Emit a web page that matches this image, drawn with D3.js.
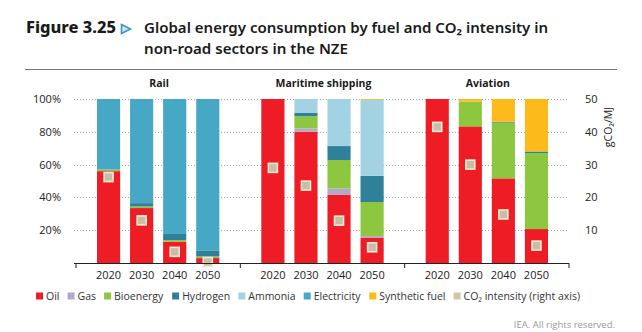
<!DOCTYPE html>
<html><head><meta charset="utf-8">
<script src="https://cdn.jsdelivr.net/npm/d3@7"></script>
<style>
html,body{margin:0;padding:0;background:#fff;}
svg{display:block;}
</style></head>
<body>
<svg id="chart" width="642" height="332"></svg>
<script>
// ---- Data ----
const sectors = ["Rail", "Maritime shipping", "Aviation"];
const years = ["2020", "2030", "2040", "2050"];
const fuels = ["Oil", "Gas", "Bioenergy", "Hydrogen", "Ammonia", "Electricity", "Synthetic fuel"];
const fuelColors = ["#ee1c25", "#b4a7c9", "#8dc63f", "#2f8199", "#a3d3e3", "#47a8c5", "#fcbb1a"];
// shares (%) in order: Rail 2020..2050, Maritime 2020..2050, Aviation 2020..2050
const oil         = [56, 33.5, 13, 3,   100, 80, 41.5, 15.5,  100, 83.3, 51.6, 20.7];
const gas         = [0, 0, 0, 0,        0, 2, 4, 1,           0, 0, 0, 0];
const bioenergy   = [1, 1, 1, 1,        0, 7.5, 17.3, 20.7,   0, 15.1, 34, 46.3];
const hydrogen    = [0, 2, 3.7, 3.7,    0, 2.2, 8.5, 16,      0, 0, 0.5, 1];
const ammonia     = [0, 0, 0, 0,        0, 8.3, 28.7, 46.3,   0, 0, 0, 0];
const electricity = [43, 63.5, 82.3, 92.3, 0, 0, 0, 0,        0, 0, 0, 0];
const synthetic   = [0, 0, 0, 0,        0, 0, 0, 0.5,         0, 1.6, 13.9, 32];
const co2Intensity = [26.2, 13, 3.4, 0.3, 29, 23.6, 12.9, 4.8, 41.5, 30, 14.8, 5.3];
const leftTicks = [20, 40, 60, 80, 100];
const rightTicks = [10, 20, 30, 40, 50];

const series = [oil, gas, bioenergy, hydrogen, ammonia, electricity, synthetic];

// table
const rows = [];
sectors.forEach((s, si) => years.forEach((y, yi) => {
  const i = si * 4 + yi;
  const r = {sector: s, year: y, co2: co2Intensity[i]};
  fuels.forEach((f, fi) => r[f] = series[fi][i]);
  rows.push(r);
}));

const svg = d3.select("#chart");
const font = "'Open Sans', 'Noto Sans', sans-serif";

// ---- Title ----
svg.append("text").attr("x", 26).attr("y", 33)
  .attr("font-family", "'Noto Sans', sans-serif").attr("font-weight", 800)
  .attr("font-size", 16).attr("fill", "#1a1a1a")
  .attr("textLength", 90).attr("lengthAdjust", "spacingAndGlyphs").text("Figure 3.25");
svg.append("path").attr("d", "M121.5,24.5 L130.5,29 L121.5,33.5 Z")
  .attr("fill", "#cfe6f3").attr("stroke", "#3b93c8").attr("stroke-width", 1.6);
svg.append("text").attr("x", 144).attr("y", 33)
  .attr("font-family", "'Noto Sans', sans-serif").attr("font-weight", 600)
  .attr("font-size", 14.5).attr("fill", "#1a1a1a")
  .attr("textLength", 404).attr("lengthAdjust", "spacingAndGlyphs")
  .text("Global energy consumption by fuel and CO₂ intensity in");
svg.append("text").attr("x", 144).attr("y", 54)
  .attr("font-family", "'Noto Sans', sans-serif").attr("font-weight", 600)
  .attr("font-size", 14.5).attr("fill", "#1a1a1a")
  .attr("textLength", 204).attr("lengthAdjust", "spacingAndGlyphs")
  .text("non-road sectors in the NZE");
svg.append("line").attr("x1", 25).attr("x2", 617).attr("y1", 69.5).attr("y2", 69.5)
  .attr("stroke", "#777").attr("stroke-width", 1);

// ---- Scales ----
const x0 = d3.scaleBand().domain(sectors).range([76, 569]).padding(0);
const x1 = d3.scaleBand().domain(years).range([0, x0.bandwidth()])
  .paddingInner(0.3).paddingOuter(0.635);
const y = d3.scaleLinear().domain([0, 100]).range([263, 99]);
const yR = d3.scaleLinear().domain([0, 50]).range([263, 99]);

// gridlines
svg.append("g").selectAll("line").data(leftTicks).join("line")
  .attr("x1", 74).attr("x2", 569)
  .attr("y1", d => Math.round(y(d)) + 0.5).attr("y2", d => Math.round(y(d)) + 0.5)
  .attr("stroke", "#a8a8a8").attr("stroke-width", 1).attr("stroke-dasharray", "1,2");

// left axis labels
const yAxisL = d3.axisLeft(y).tickValues(leftTicks).tickSize(0).tickFormat(d => d + "%");
const gL = svg.append("g").attr("transform", "translate(64,0)").call(yAxisL);
gL.select(".domain").remove();
gL.selectAll("text").attr("font-family", font).attr("font-size", 11).attr("fill", "#222").attr("dx", 0);

// right axis labels
const yAxisR = d3.axisRight(yR).tickValues(rightTicks).tickSize(0);
const gR = svg.append("g").attr("transform", "translate(582,0)").call(yAxisR);
gR.select(".domain").remove();
gR.selectAll("text").attr("font-family", font).attr("font-size", 11).attr("fill", "#222").attr("dx", 0);
svg.append("text").attr("transform", "translate(608,127) rotate(-90)")
  .attr("text-anchor", "middle").attr("dominant-baseline", "central")
  .attr("font-family", font).attr("font-size", 10.5).attr("fill", "#222").text("gCO₂/MJ");

// stacked bars
const stack = d3.stack().keys(fuels);
const stacked = stack(rows);
const barsG = svg.append("g");
stacked.forEach((layer, li) => {
  barsG.append("g").attr("fill", fuelColors[li]).selectAll("rect")
    .data(layer.filter(d => d[1] - d[0] > 0)).join("rect")
    .attr("x", d => x0(d.data.sector) + x1(d.data.year))
    .attr("width", x1.bandwidth())
    .attr("y", d => y(d[1]))
    .attr("height", d => y(d[0]) - y(d[1]));
});

// CO2 markers
svg.append("g").selectAll("rect").data(rows).join("rect")
  .attr("x", d => x0(d.sector) + x1(d.year) + x1.bandwidth() / 2 - 4.5)
  .attr("y", d => yR(d.co2) - 4.5)
  .attr("width", 9).attr("height", 9)
  .attr("fill", "#c9bea4").attr("stroke", "#f1e9d6").attr("stroke-width", 1.6);

// x axis
const gx = svg.append("g");
gx.append("line").attr("x1", 74).attr("x2", 569).attr("y1", 263.5).attr("y2", 263.5)
  .attr("stroke", "#222").attr("stroke-width", 1.2);
const boundaries = sectors.map(s => x0(s)).concat([x0(sectors[sectors.length - 1]) + x0.bandwidth()]);
gx.selectAll("line.tk").data(boundaries).join("line").attr("class", "tk")
  .attr("x1", d => d).attr("x2", d => d).attr("y1", 263).attr("y2", 268)
  .attr("stroke", "#222").attr("stroke-width", 1);
sectors.forEach(s => {
  const g = svg.append("g").attr("transform", `translate(${x0(s)},263)`);
  const ax = d3.axisBottom(x1).tickSize(0).tickPadding(0);
  g.call(ax);
  g.select(".domain").remove();
  g.selectAll("text").attr("font-family", font).attr("font-size", 11).attr("fill", "#222").attr("dy", "1.45em");
  svg.append("text").attr("x", x0(s) + x0.bandwidth() / 2 + 1).attr("y", 87)
    .attr("text-anchor", "middle").attr("font-family", font).attr("font-weight", 700)
    .attr("font-size", 10.5).attr("fill", "#1a1a1a").text(s);
});

// legend
const legendItems = fuels.map((f, i) => ({label: f, color: fuelColors[i]}))
  .concat([{label: "CO₂ intensity (right axis)", color: "#cfc5ad"}]);
const lg = svg.append("g");
const items = lg.selectAll("g").data(legendItems).join("g");
items.append("rect").attr("width", 7).attr("height", 7).attr("y", -3.5).attr("fill", d => d.color);
items.append("text").attr("x", 10).attr("dominant-baseline", "central")
  .attr("font-family", font).attr("font-size", 10.5).attr("fill", "#333").text(d => d.label);
const widths = [];
items.each(function() { widths.push(this.getBBox().width); });
const total = d3.sum(widths);
const gap = (544 - total) / (widths.length - 1);
let cx = 36;
items.attr("transform", (d, i) => { const t = `translate(${cx},296)`; cx += widths[i] + gap; return t; });

svg.append("text").attr("x", 615).attr("y", 324).attr("text-anchor", "end")
  .attr("dominant-baseline", "central")
  .attr("font-family", font).attr("font-size", 9.5).attr("fill", "#9a9a9a")
  .text("IEA. All rights reserved.");
</script>
</body></html>
